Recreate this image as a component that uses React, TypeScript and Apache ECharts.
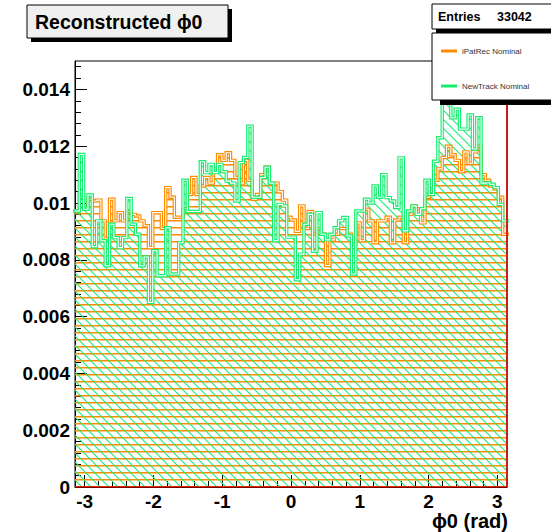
import React, { useEffect, useRef } from 'react';
import * as echarts from 'echarts';

// ---- data (values in units of 1e-3, one per bin, 100 bins over [-pi, pi]) ----
const iPatRecValues = [
  9.72, 10.3, 9.84, 10.13, 10.07, 10.1, 9.37, 8.73, 10.13, 9.37,
  9.66, 9.37, 9.7, 9.6, 9.54, 9.37, 9.2, 8.43, 9.66, 9.66,
  9.1, 10.54, 10.2, 9.5, 9.5, 9.8, 10.3, 10.9, 10.3, 10.6,
  10.9, 10.7, 11.2, 11.7, 11.5, 11.77, 11.5, 10.9, 10.7, 11.5,
  10.8, 10.13, 10.3, 11.0, 11.26, 10.7, 10.7, 10.4, 10.1, 9.5,
  9.4, 9.0, 9.9, 9.1, 9.7, 8.9, 9.1, 8.9, 7.8, 8.7,
  8.9, 9.1, 9.1, 8.9, 8.55, 9.3, 8.67, 9.78, 9.37, 8.6,
  9.37, 9.37, 9.5, 8.6, 9.4, 9.5, 8.6, 9.6, 9.9, 9.8,
  9.3, 10.2, 10.5, 10.8, 11.2, 11.6, 12.0, 11.7, 11.5, 11.1,
  11.8, 11.4, 11.8, 12.0, 11.0, 10.8, 10.6, 10.5, 10.2, 8.9,
];
const newTrackValues = [
  9.72, 11.71, 9.78, 10.28, 8.46, 9.37, 8.67, 7.79, 9.25, 8.78,
  8.43, 8.78, 10.16, 9.25, 8.9, 7.79, 8.1, 6.5, 8.32, 7.44,
  7.44, 9.13, 7.5, 7.5, 8.6, 10.8, 9.7, 9.7, 9.7, 11.45,
  11.07, 11.36, 11.07, 11.36, 11.1, 10.77, 10.7, 10.07, 11.42, 11.6,
  12.7, 10.2, 10.2, 10.9, 11.26, 10.7, 8.67, 9.95, 9.9, 8.8,
  8.8, 7.3, 8.2, 9.25, 9.6, 8.3, 9.66, 8.9, 8.7, 8.9,
  9.13, 9.37, 9.49, 8.84, 7.5, 9.72, 9.72, 10.13, 10.0, 10.6,
  10.2, 11.0, 10.19, 10.07, 9.84, 11.59, 9.02, 9.72, 9.9, 9.6,
  9.8, 10.8, 10.3, 11.47, 12.3, 14.3, 14.0, 13.0, 13.3, 12.6,
  12.6, 13.1, 11.9, 13.0, 10.7, 10.72, 10.66, 10.54, 9.95, 9.37,
];
const VALUE_UNIT = 1e-3;
const seriesNames = ['iPatRec Nominal', 'NewTrack Nominal'];
const xTickLabels = [-3, -2, -1, 0, 1, 2, 3];
const yTickLabels = [0, 0.002, 0.004, 0.006, 0.008, 0.01, 0.012, 0.014];
const entries = 33042;
const titleText = 'Reconstructed \u03D50';
const xAxisTitle = '\u03D50 (rad)';

const X_MIN = -Math.PI;
const X_MAX = Math.PI;
const Y_MAX = 0.015;

const ORANGE = '#ff8c00';
const GREEN = '#17ee70';
const FONT = '"Liberation Sans", Arial, Helvetica, sans-serif';

function stepPoints(vals: number[]) {
  const w = (X_MAX - X_MIN) / vals.length;
  const pts: number[][] = [];
  vals.forEach((v, i) => {
    const lo = X_MIN + i * w;
    pts.push([lo, v * VALUE_UNIT], [lo + w, v * VALUE_UNIT]);
  });
  return pts;
}

function makeHatch(kind: 'h' | 'd', color: string) {
  const c = document.createElement('canvas');
  const ctx = c.getContext('2d')!;
  if (kind === 'h') {
    c.width = 8;
    c.height = 7;
    ctx.fillStyle = color;
    ctx.fillRect(0, 3, 8, 1.5);
  } else {
    const P = 9;
    c.width = P;
    c.height = P;
    ctx.strokeStyle = color;
    ctx.lineWidth = 1.1;
    for (const k of [-1, 0, 1]) {
      ctx.beginPath();
      ctx.moveTo(k * P - 1, -1);
      ctx.lineTo(k * P + P + 1, P + 1);
      ctx.stroke();
    }
  }
  return { image: c, repeat: 'repeat', imageWidth: c.width, imageHeight: c.height };
}

export default function App() {
  const ref = useRef<HTMLDivElement>(null);
  useEffect(() => {
    const chart = echarts.init(ref.current!, null, { renderer: 'svg' });
    const orangePts = stepPoints(iPatRecValues);
    const greenPts = stepPoints(newTrackValues);
    const orangePat = makeHatch('h', ORANGE);
    const greenPat = makeHatch('d', GREEN);

    const xMinor: number[] = [];
    for (let k = -15; k <= 15; k++) xMinor.push(k / 5);
    const yMinor: number[] = [];
    for (let k = 0; k <= 37; k++) yMinor.push(Number((k * 0.0004).toFixed(4)));

    const labelStyle = { fontSize: 19, fontWeight: 'bold', color: '#000', fontFamily: FONT };

    const areaSeries = (name: string, pts: number[][], pat: any, z: number) => ({
      type: 'line', name, data: pts, symbol: 'none', silent: true, z,
      lineStyle: { width: 0, opacity: 0 },
      areaStyle: { color: pat, opacity: 1, origin: 'start' },
    });
    const outline = (name: string, pts: number[][], color: string, width: number, z: number) => ({
      type: 'line', name, data: pts, symbol: 'none', silent: true, z,
      color,
      itemStyle: { color },
      lineStyle: { color, width, join: 'miter', cap: 'square' },
    });

    const option: any = {
      animation: false,
      grid: { left: 75, top: 61, width: 432, height: 426, show: true, borderColor: '#000', borderWidth: 1, backgroundColor: 'transparent' },
      xAxis: [
        {
          type: 'value', min: X_MIN, max: X_MAX, position: 'bottom',
          axisLine: { show: true, onZero: false, lineStyle: { color: '#000', width: 1 } },
          axisTick: { show: true, inside: true, length: 12, customValues: xTickLabels, lineStyle: { color: '#000', width: 1 } },
          axisLabel: { ...labelStyle, margin: 5, customValues: xTickLabels },
          splitLine: { show: false },
          name: xAxisTitle, nameLocation: 'end', nameGap: 1,
          nameTextStyle: { ...labelStyle, fontSize: 20, align: 'right', verticalAlign: 'top', padding: [24, 0, 0, 0] },
        },
        {
          type: 'value', min: X_MIN, max: X_MAX, position: 'bottom',
          axisLine: { show: false, onZero: false },
          axisTick: { show: true, inside: true, length: 6, customValues: xMinor, lineStyle: { color: '#000', width: 1 } },
          axisLabel: { show: false },
          splitLine: { show: false },
        },
      ],
      yAxis: [
        {
          type: 'value', min: 0, max: Y_MAX, position: 'left',
          axisLine: { show: true, onZero: false, lineStyle: { color: '#000', width: 1 } },
          axisTick: { show: true, inside: true, length: 12, customValues: yTickLabels, lineStyle: { color: '#000', width: 1 } },
          axisLabel: { ...labelStyle, margin: 5, customValues: yTickLabels },
          splitLine: { show: false },
        },
        {
          type: 'value', min: 0, max: Y_MAX, position: 'left',
          axisLine: { show: false, onZero: false },
          axisTick: { show: true, inside: true, length: 6, customValues: yMinor, lineStyle: { color: '#000', width: 1 } },
          axisLabel: { show: false },
          splitLine: { show: false },
        },
      ],
      legend: {
        data: seriesNames,
        orient: 'vertical', left: 436, top: 42, itemGap: 27, itemWidth: 16, itemHeight: 3,
        icon: 'rect', selectedMode: false, z: 120,
        textStyle: { fontSize: 8, color: '#333', fontFamily: FONT },
      },
      series: [
        areaSeries('iPatRec fill', orangePts, orangePat, 2),
        areaSeries('NewTrack fill', greenPts, greenPat, 3),
        outline(seriesNames[0], orangePts, ORANGE, 3.4, 4),
        outline('iPatRec core', orangePts, '#ffffff', 1.1, 5),
        outline(seriesNames[1], greenPts, GREEN, 3.4, 6),
        outline('NewTrack core', greenPts, '#ffffff', 1.1, 7),
        {
          type: 'line', name: 'frame', data: [[X_MIN, 0], [X_MAX, 0], [X_MAX, Y_MAX]],
          symbol: 'none', silent: true, z: 8,
          lineStyle: { color: '#e00000', width: 1.6 },
        },
      ],
      graphic: [
        { type: 'rect', z: 100, shape: { x: 31, y: 9, width: 201, height: 33 }, style: { fill: '#000' } },
        { type: 'rect', z: 101, shape: { x: 27, y: 5, width: 201, height: 33 }, style: { fill: '#f0f0f0', stroke: '#000', lineWidth: 1 } },
        { type: 'text', z: 102, x: 35, y: 22, style: { text: titleText, fontSize: 19.5, fontWeight: 'bold', fontFamily: FONT, fill: '#000', verticalAlign: 'middle' } },

        { type: 'rect', z: 100, shape: { x: 436, y: 8, width: 130, height: 25 }, style: { fill: '#000' } },
        { type: 'rect', z: 101, shape: { x: 432, y: 4, width: 130, height: 25 }, style: { fill: '#fff', stroke: '#000', lineWidth: 1 } },
        { type: 'text', z: 102, x: 438, y: 17, style: { text: 'Entries', fontSize: 12.5, fontWeight: 'bold', fontFamily: FONT, fill: '#000', verticalAlign: 'middle' } },
        { type: 'text', z: 102, x: 497, y: 17, style: { text: String(entries), fontSize: 12.5, fontWeight: 'bold', fontFamily: FONT, fill: '#000', verticalAlign: 'middle' } },

        { type: 'rect', z: 100, shape: { x: 440, y: 38, width: 130, height: 67 }, style: { fill: '#000' } },
        { type: 'rect', z: 101, shape: { x: 432, y: 33, width: 130, height: 67 }, style: { fill: '#fff', stroke: '#000', lineWidth: 1 } },
      ],
    };
    chart.setOption(option);
    return () => chart.dispose();
  }, []);
  return <div ref={ref} style={{ position: 'absolute', left: 0, top: 0, width: 551, height: 532 }} />;
}
